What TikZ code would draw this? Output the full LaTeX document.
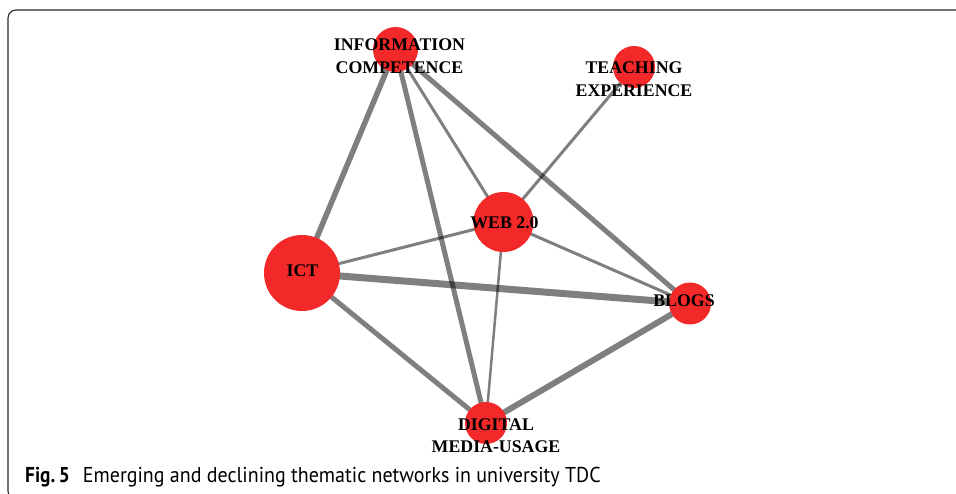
\documentclass[tikz,border=0pt]{standalone}
\usepackage{fontspec}
\setmainfont{Liberation Serif}
\newfontfamily\capfont[FakeStretch=0.93, BoldFeatures={FakeStretch=0.9}]{PT Sans}
\usetikzlibrary{backgrounds}

\definecolor{topicred}{RGB}{243,40,40}
\definecolor{framegray}{RGB}{40,40,40}

\tikzset{
  topic/.style={circle, fill=topicred, draw=none, inner sep=0pt},
  topiclabel/.style={align=center, inner sep=0pt, text=black,
    font=\fontsize{17.8}{22.5}\selectfont\bfseries},
  link/.style={draw=black, draw opacity=0.5},
}

\begin{document}
\begin{tikzpicture}[x=1pt, y=-1pt]
\useasboundingbox (0,0) rectangle (956,494);

% frame, cut at the right and at the bottom
\begin{scope}
\clip (0,0) rectangle (956,494);
\draw[framegray, line width=1.1, rounded corners=8] (8,10) rectangle (990,499);
\end{scope}

% topics
\node[topic, minimum size=45] (info) at (395.5,49.5) {};
\node[topic, minimum size=42] (teach) at (634,67) {};
\node[topic, minimum size=60] (web) at (503.5,222) {};
\node[topic, minimum size=76] (ict) at (302,273) {};
\node[topic, minimum size=42] (blogs) at (690,303.5) {};
\node[topic, minimum size=42] (digital) at (486,423) {};

% links, behind the topics
\begin{scope}[on background layer]
\draw[link, line width=5.5] (info.center) -- (ict.center);
\draw[link, line width=5] (info.center) -- (digital.center);
\draw[link, line width=3] (info.center) -- (web.center);
\draw[link, line width=5] (info.center) -- (blogs.center);
\draw[link, line width=3] (teach.center) -- (web.center);
\draw[link, line width=3] (web.center) -- (ict.center);
\draw[link, line width=3] (web.center) -- (blogs.center);
\draw[link, line width=2.5] (web.center) -- (digital.center);
\draw[link, line width=7] (ict.center) -- (blogs.center);
\draw[link, line width=5] (ict.center) -- (digital.center);
\draw[link, line width=6] (blogs.center) -- (digital.center);
\end{scope}

% labels
\node[topiclabel] (info-label) at (399.5,56.3) {INFORMATION\\COMPETENCE};
\node[topiclabel] (teach-label) at (634,79.2) {TEACHING\\EXPERIENCE};
\node[topiclabel] (web-label) at (504.5,223) {WEB 2.0};
\node[topiclabel] (ict-label) at (302.5,271) {ICT};
\node[topiclabel] (blogs-label) at (684,301) {BLOGS};
\node[topiclabel] (digital-label) at (496,435.5) {DIGITAL\\MEDIA-USAGE};

% caption
\node[anchor=base west, inner sep=0pt, text=black,
  font=\capfont\fontsize{21.5}{25}\selectfont] (caption) at (25,482)
  {{\bfseries Fig.\,5}\hspace{13pt}Emerging and declining thematic networks in university TDC};
\end{tikzpicture}
\end{document}
